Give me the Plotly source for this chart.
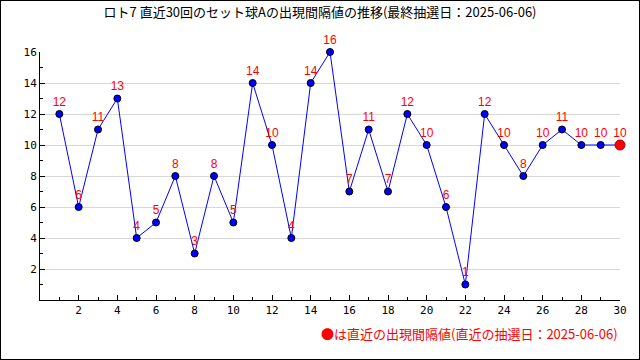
import plotly.graph_objects as go

draws = list(range(1, 31))
intervals = [12, 6, 11, 13, 4, 5, 8, 3, 8, 5, 14, 10, 4, 14, 16, 7, 11, 7, 12, 10,
             6, 1, 12, 10, 8, 10, 11, 10, 10, 10]
x_ticks = [2, 4, 6, 8, 10, 12, 14, 16, 18, 20, 22, 24, 26, 28, 30]
y_ticks = [2, 4, 6, 8, 10, 12, 14, 16]
title_text = "ロト7 直近30回のセット球Aの出現間隔値の推移(最終抽選日：2025-06-06)"
note_text = "●は直近の出現間隔値(直近の抽選日：2025-06-06)"

FONT = "DejaVu Sans Mono, Noto Sans CJK JP, monospace"
JFONT = "Noto Sans CJK JP, DejaVu Sans Mono"

fig = go.Figure()
fig.add_trace(go.Scatter(
    x=draws, y=intervals, mode="lines+markers+text",
    text=[str(v) for v in intervals], textposition="top center",
    textfont=dict(color="red", size=12, family="Liberation Sans, Arial"),
    line=dict(color="blue", width=1),
    marker=dict(color="blue", size=7, line=dict(color="black", width=1)),
    cliponaxis=False, showlegend=False, hoverinfo="x+y"))
fig.add_trace(go.Scatter(
    x=[draws[-1]], y=[intervals[-1]], mode="markers",
    marker=dict(color="red", size=10, line=dict(color="#b00000", width=1)),
    cliponaxis=False, showlegend=False, hoverinfo="x+y"))

L, R, T, B = 40, 20, 52, 60
W, H = 640, 360
pw, ph = W - L - R, H - T - B

fig.update_layout(
    width=W, height=H, margin=dict(l=L, r=R, t=T, b=B),
    paper_bgcolor="white", plot_bgcolor="white",
    font=dict(family=FONT, size=11, color="black"),
    title=dict(text=title_text, x=0.5, xanchor="center", y=1 - 12 / H, yanchor="middle",
               font=dict(family=JFONT, size=13, color="black")),
    xaxis=dict(range=[0, 30], tickvals=x_ticks, ticks="inside", ticklen=5, tickcolor="black",
               showline=True, linecolor="black", linewidth=1, showgrid=False, zeroline=False,
               minor=dict(ticks="inside", ticklen=3, dtick=1, tick0=0, tickcolor="black", showgrid=False),
               tickfont=dict(size=11)),
    yaxis=dict(range=[0, 16], tickvals=y_ticks, ticks="inside", ticklen=5, tickcolor="black",
               showline=True, linecolor="black", linewidth=1, showgrid=True, gridcolor="#d8d8d8",
               zeroline=False,
               minor=dict(ticks="inside", ticklen=3, dtick=1, tick0=0, tickcolor="black", showgrid=False),
               tickfont=dict(size=11)),
    annotations=[dict(text=note_text, xref="paper", yref="paper",
                      x=(620 - L) / pw, y=-(333 - (T + ph)) / ph,
                      xanchor="right", yanchor="middle", showarrow=False,
                      font=dict(family=JFONT, size=13, color="red"))],
)
post = ("document.body.style.margin='0';"
        "var f=document.createElement('div');"
        "f.style.cssText='position:fixed;left:0;top:0;width:640px;height:360px;"
        "box-sizing:border-box;border:1px solid black;pointer-events:none;z-index:9999;';"
        "document.body.appendChild(f);")
fig.write_html("out.html", post_script=post, config={"displayModeBar": False})
